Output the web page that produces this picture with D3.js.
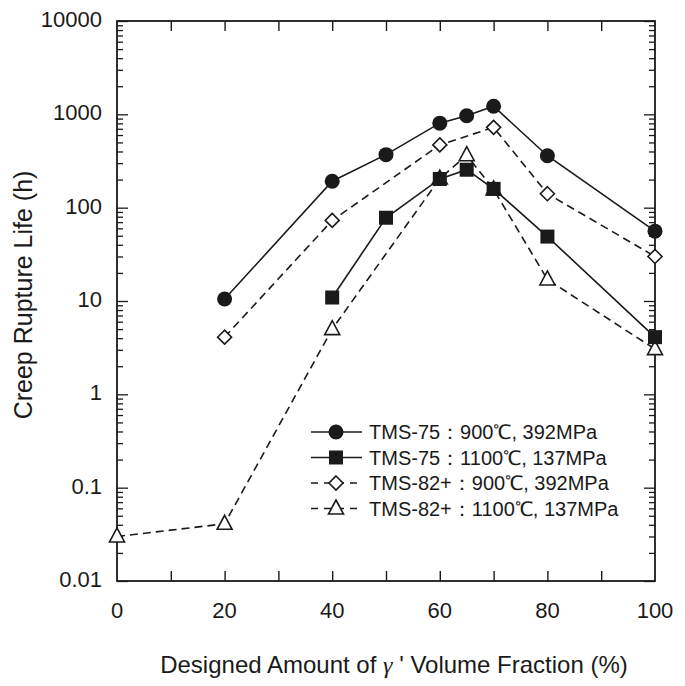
<!DOCTYPE html>
<html><head><meta charset="utf-8">
<script src="https://cdn.jsdelivr.net/npm/d3@7"></script>
<style>body{margin:0;background:#fff;} text{font-family:"Liberation Sans",Arial,sans-serif;fill:#1a1a1a;}</style>
</head><body><svg id="c" width="685" height="686"></svg>
<script>
const xTickLabels = [0, 20, 40, 60, 80, 100];
const yTickLabels = ["0.01", "0.1", "1", "10", "100", "1000", "10000"];

const s1x = [20, 40, 50, 60, 65, 70, 80, 100];
const s1y = [10.5, 192, 370, 805, 965, 1220, 360, 56];
const s2x = [40, 50, 60, 65, 70, 80, 100];
const s2y = [10.9, 78, 203, 255, 159, 49, 4.1];
const s3x = [20, 40, 60, 70, 80, 100];
const s3y = [4.1, 73, 470, 725, 141, 30];
const s4x = [0, 20, 40, 60, 65, 70, 80, 100];
const s4y = [0.03, 0.041, 5.0, 205, 365, 157, 17, 3.05];

const seriesNames = ["TMS-75：900℃, 392MPa", "TMS-75：1100℃, 137MPa", "TMS-82+：900℃, 392MPa", "TMS-82+：1100℃, 137MPa"];
const seriesMarkers = ["circle", "square", "diamond", "triangle"];
const seriesDashed = [false, false, true, true];

const series = [[s1x, s1y], [s2x, s2y], [s3x, s3y], [s4x, s4y]].map((d, i) => ({
  name: seriesNames[i], marker: seriesMarkers[i], dashed: seriesDashed[i],
  pts: d[0].map((x, j) => ({x, y: d[1][j]}))
}));

const svg = d3.select("#c");
const L = 117, R = 655, T = 21, B = 581;
const x = d3.scaleLinear().domain([0, 100]).range([L, R]);
const y = d3.scaleLog().domain([0.01, 10000]).range([B, T]);

const ink = "#1a1a1a";
svg.append("rect").attr("x", L).attr("y", T).attr("width", R - L).attr("height", B - T)
  .attr("fill", "none").attr("stroke", ink).attr("stroke-width", 1.8);

const xt = d3.range(10, 100, 10);
const gx = svg.append("g").attr("transform", `translate(0,${B})`)
  .call(d3.axisBottom(x).tickValues(xt).tickSizeInner(-10).tickSizeOuter(0).tickFormat(""));
const gxt = svg.append("g").attr("transform", `translate(0,${T})`)
  .call(d3.axisTop(x).tickValues(xt).tickSizeInner(-10).tickSizeOuter(0).tickFormat(""));
[gx, gxt].forEach(g => { g.select(".domain").remove(); g.selectAll("line").attr("stroke", ink).attr("stroke-width", 1.4); });

svg.append("g").selectAll("text").data(xTickLabels).join("text")
  .attr("x", d => x(d)).attr("y", 618).attr("text-anchor", "middle")
  .attr("font-size", 22).text(d => d);

const majors = yTickLabels.map(Number);
const minors = [];
majors.slice(0, -1).forEach(m => { for (let k = 2; k <= 9; k++) minors.push(m * k); });
const gy = svg.append("g").attr("transform", `translate(${L},0)`)
  .call(d3.axisLeft(y).tickValues(majors).tickSizeInner(-11).tickSizeOuter(0).tickFormat(""));
const gym = svg.append("g").attr("transform", `translate(${L},0)`)
  .call(d3.axisLeft(y).tickValues(minors).tickSizeInner(-6).tickSizeOuter(0).tickFormat(""));
const gyr = svg.append("g").attr("transform", `translate(${R},0)`)
  .call(d3.axisRight(y).tickValues(majors).tickSizeInner(-11).tickSizeOuter(0).tickFormat(""));
const gyrm = svg.append("g").attr("transform", `translate(${R},0)`)
  .call(d3.axisRight(y).tickValues(minors).tickSizeInner(-6).tickSizeOuter(0).tickFormat(""));
[gy, gym, gyr, gyrm].forEach(g => { g.select(".domain").remove(); g.selectAll("line").attr("stroke", ink).attr("stroke-width", 1.3); });

svg.append("g").selectAll("text").data(yTickLabels).join("text")
  .attr("x", 102).attr("y", d => y(+d) + 6).attr("text-anchor", "end")
  .attr("font-size", 22).text(d => d);

const xt1 = svg.append("text").attr("x", 394).attr("y", 673).attr("text-anchor", "middle").attr("font-size", 24);
xt1.append("tspan").text("Designed Amount of ");
xt1.append("tspan").attr("font-family", "Liberation Serif, serif").attr("font-style", "italic").text("γ");
xt1.append("tspan").text(" ' Volume Fraction (%)");
svg.append("text").attr("transform", "translate(32,295) rotate(-90)").attr("text-anchor", "middle")
  .attr("font-size", 25).text("Creep Rupture Life (h)");

function marker(g, type, cx, cy) {
  if (type === "circle") g.append("circle").attr("cx", cx).attr("cy", cy).attr("r", 7.5).attr("fill", ink);
  else if (type === "square") g.append("rect").attr("x", cx - 7).attr("y", cy - 7).attr("width", 14).attr("height", 14).attr("fill", ink);
  else if (type === "diamond") g.append("path").attr("d", `M${cx},${cy - 7}L${cx + 7},${cy}L${cx},${cy + 7}L${cx - 7},${cy}Z`)
    .attr("fill", "#fff").attr("stroke", ink).attr("stroke-width", 1.6);
  else if (type === "triangle") g.append("path").attr("d", `M${cx},${cy - 8.5}L${cx + 7.5},${cy + 5.5}L${cx - 7.5},${cy + 5.5}Z`)
    .attr("fill", "#fff").attr("stroke", ink).attr("stroke-width", 1.6);
}

const line = d3.line().x(d => x(d.x)).y(d => y(d.y));
series.slice().reverse().forEach(s => {
  svg.append("path").attr("d", line(s.pts)).attr("fill", "none").attr("stroke", ink)
    .attr("stroke-width", 1.6).attr("stroke-dasharray", s.dashed ? "8,5" : null);
});
series.slice().reverse().forEach(s => {
  const g = svg.append("g");
  s.pts.forEach(p => marker(g, s.marker, x(p.x), y(p.y)));
});

const lg = svg.append("g");
series.forEach((s, i) => {
  const ly = 432 + i * 25.5;
  lg.append("line").attr("x1", 311).attr("x2", 362).attr("y1", ly).attr("y2", ly)
    .attr("stroke", ink).attr("stroke-width", 1.6).attr("stroke-dasharray", s.dashed ? "7,6" : null);
  marker(lg, s.marker, 336, ly);
  lg.append("text").attr("x", 369).attr("y", ly + 7).attr("font-size", 20).text(s.name);
});
</script></body></html>
